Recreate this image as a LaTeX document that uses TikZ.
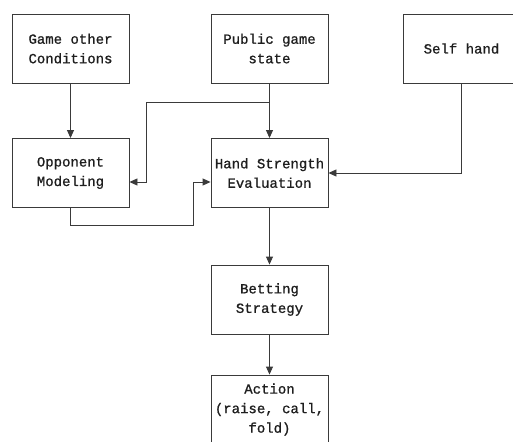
\documentclass[tikz,border=0pt]{standalone}
\usepackage{fontspec}
\setmainfont{Liberation Mono}[FakeBold=0.9]
\usetikzlibrary{arrows.meta}
\definecolor{ln}{HTML}{3A3A3A}
\definecolor{tx}{HTML}{1E1E1E}
\begin{document}
\begin{tikzpicture}[x=1pt,y=-1pt,
  box/.style={draw=ln,line width=0.9pt,rectangle,minimum width=117pt,minimum height=69pt,
    align=center,font=\fontsize{14}{19.5}\selectfont,text=tx,inner sep=0pt},
  arr/.style={draw=ln,line width=0.9pt,-{Triangle[length=8pt,width=7pt]}}]
\clip (0,0) rectangle (513,441);
\fill[white] (0,0) rectangle (513,441);
\node[box] (b1) at (70.5,48.5) {Game other\\Conditions};
\node[box] (b2) at (269.5,48.5) {Public game\\state};
\node[box] (b3) at (461.5,48.5) {Self hand};
\node[box] (b4) at (70.5,173) {Opponent\\Modeling};
\node[box] (b5) at (269.5,173) {Hand Strength\\Evaluation};
\node[box] (b6) at (269.5,299.5) {Betting\\Strategy};
\node[box] (b7) at (269.5,409.5) {Action\\(raise, call,\\fold)};
\coordinate (j1) at (269.5,102);
\coordinate (c1) at (146,102);
\coordinate (c2) at (146,182);
\coordinate (d1) at (70.5,225);
\coordinate (d2) at (193,225);
\coordinate (d3) at (193,182);
\coordinate (e1) at (461.5,173);
\draw[arr] (b1) -- (b4);
\draw[arr] (b2) -- (b5);
\draw[arr] (j1) -- (c1) -- (c2) -- (c2 -| b4.east);
\draw[arr] (b4.south) -- (d1) -- (d2) -- (d3) -- (d3 -| b5.west);
\draw[arr] (b3.south) -- (e1) -- (b5.east);
\draw[arr] (b5) -- (b6);
\draw[arr] (b6) -- (b7);
\end{tikzpicture}
\end{document}
